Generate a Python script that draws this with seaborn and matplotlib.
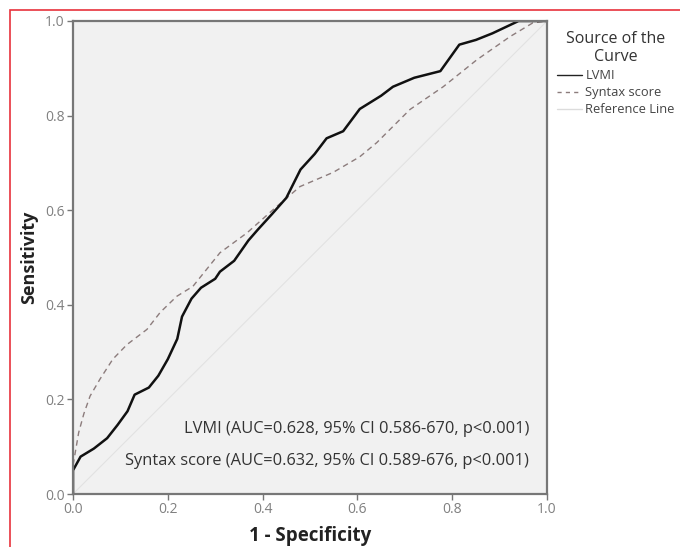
import matplotlib
matplotlib.use("Agg")
import matplotlib.pyplot as plt
import seaborn as sns
import pandas as pd
from matplotlib.patches import Rectangle
from matplotlib.lines import Line2D

# ---- data ----
lvmi_fpr = [0, 0, 0.016, 0.044, 0.072, 0.094, 0.115, 0.13, 0.16, 0.18, 0.20, 0.22, 0.23, 0.25,
            0.27, 0.30, 0.31, 0.34, 0.37, 0.39, 0.42, 0.45, 0.48, 0.51, 0.535, 0.57, 0.605, 0.65,
            0.675, 0.72, 0.775, 0.795, 0.815, 0.85, 0.885, 0.94, 1.0]
lvmi_tpr = [0, 0.05, 0.079, 0.096, 0.118, 0.146, 0.175, 0.21, 0.225, 0.25, 0.285, 0.328, 0.375,
            0.413, 0.436, 0.455, 0.47, 0.493, 0.536, 0.559, 0.592, 0.626, 0.686, 0.719, 0.752,
            0.767, 0.814, 0.842, 0.861, 0.88, 0.894, 0.922, 0.95, 0.96, 0.974, 1.0, 1.0]
syntax_fpr = [0, 0, 0.012, 0.023, 0.036, 0.057, 0.084, 0.114, 0.156, 0.184, 0.219, 0.253, 0.31,
              0.367, 0.43, 0.479, 0.549, 0.605, 0.641, 0.711, 0.781, 0.852, 0.922, 0.97, 1.0]
syntax_tpr = [0, 0.06, 0.13, 0.17, 0.207, 0.243, 0.285, 0.316, 0.348, 0.384, 0.418, 0.439, 0.51,
              0.552, 0.608, 0.65, 0.68, 0.713, 0.743, 0.813, 0.861, 0.918, 0.967, 0.996, 1.0]
ref_x = [0, 1]
ref_y = [0, 1]
ticks = [0.0, 0.2, 0.4, 0.6, 0.8, 1.0]
tick_labels = ["0.0", "0.2", "0.4", "0.6", "0.8", "1.0"]
annotations = ["LVMI (AUC=0.628, 95% CI 0.586-670, p<0.001)",
               "Syntax score (AUC=0.632, 95% CI 0.589-676, p<0.001)"]
legend_labels = ["LVMI", "Syntax score", "Reference Line"]

sns.set_theme(style="white")
plt.rcParams["font.family"] = ["Open Sans", "DejaVu Sans"]

fig = plt.figure(figsize=(6.8, 5.47), dpi=100)
W, H = 680, 547
ax = fig.add_axes([73 / W, 1 - 494 / H, (547 - 73) / W, (494 - 21) / H])
ax.set_facecolor("#f1f1f1")

df_l = pd.DataFrame({"x": lvmi_fpr, "y": lvmi_tpr})
df_s = pd.DataFrame({"x": syntax_fpr, "y": syntax_tpr})
df_r = pd.DataFrame({"x": ref_x, "y": ref_y})

sns.lineplot(data=df_r, x="x", y="y", ax=ax, color="#e2e2e2", linewidth=0.8,
             sort=False, estimator=None)
sns.lineplot(data=df_s, x="x", y="y", ax=ax, color="#8c7c7c", linewidth=1.0,
             sort=False, estimator=None, linestyle=(0, (4, 3)))
sns.lineplot(data=df_l, x="x", y="y", ax=ax, color="#111111", linewidth=1.8,
             sort=False, estimator=None)

ax.set_xlim(0, 1)
ax.set_ylim(0, 1)
ax.set_xticks(ticks)
ax.set_xticklabels(tick_labels)
ax.set_yticks(ticks)
ax.set_yticklabels(tick_labels)
ax.tick_params(axis="both", direction="out", length=4, width=1, color="#777777",
               labelsize=10, labelcolor="#808080", pad=2, bottom=True, left=True)
for s in ax.spines.values():
    s.set_color("#777777")
    s.set_linewidth(1.6)

ax.set_xlabel("1 - Specificity", fontsize=13.5, fontweight="bold", color="#222222", labelpad=6)
ax.set_ylabel("Sensitivity", fontsize=13, fontweight="bold", color="#222222", labelpad=5)

ax.text(0.962, 0.137, annotations[0], ha="right", va="center", fontsize=11.8, color="#333333")
ax.text(0.962, 0.069, annotations[1], ha="right", va="center", fontsize=11.8, color="#333333")

handles = [Line2D([0], [0], color="#222222", linewidth=1.0),
           Line2D([0], [0], color="#8c7c7c", linewidth=1.0, linestyle=(0, (3, 3))),
           Line2D([0], [0], color="#dcdcdc", linewidth=1.0)]
leg = fig.legend(handles, legend_labels, title="Source of the\nCurve", loc="upper left",
                 bbox_to_anchor=(557 / W, 1 - 31 / H), bbox_transform=fig.transFigure,
                 frameon=False, fontsize=9.3, title_fontsize=11.5,
                 handlelength=1.9, handletextpad=0.3, labelspacing=0.3, borderaxespad=0,
                 borderpad=0)
leg.get_title().set_color("#333333")
leg.get_title().set_multialignment("center")
for t in leg.get_texts():
    t.set_color("#444444")

fig.patches.append(Rectangle((10 / W, -0.1), 1.2, 1.1 - 10 / H, transform=fig.transFigure,
                             fill=False, edgecolor="#e8323c", linewidth=1.2, clip_on=False))

fig.savefig("out.png", dpi=100)
